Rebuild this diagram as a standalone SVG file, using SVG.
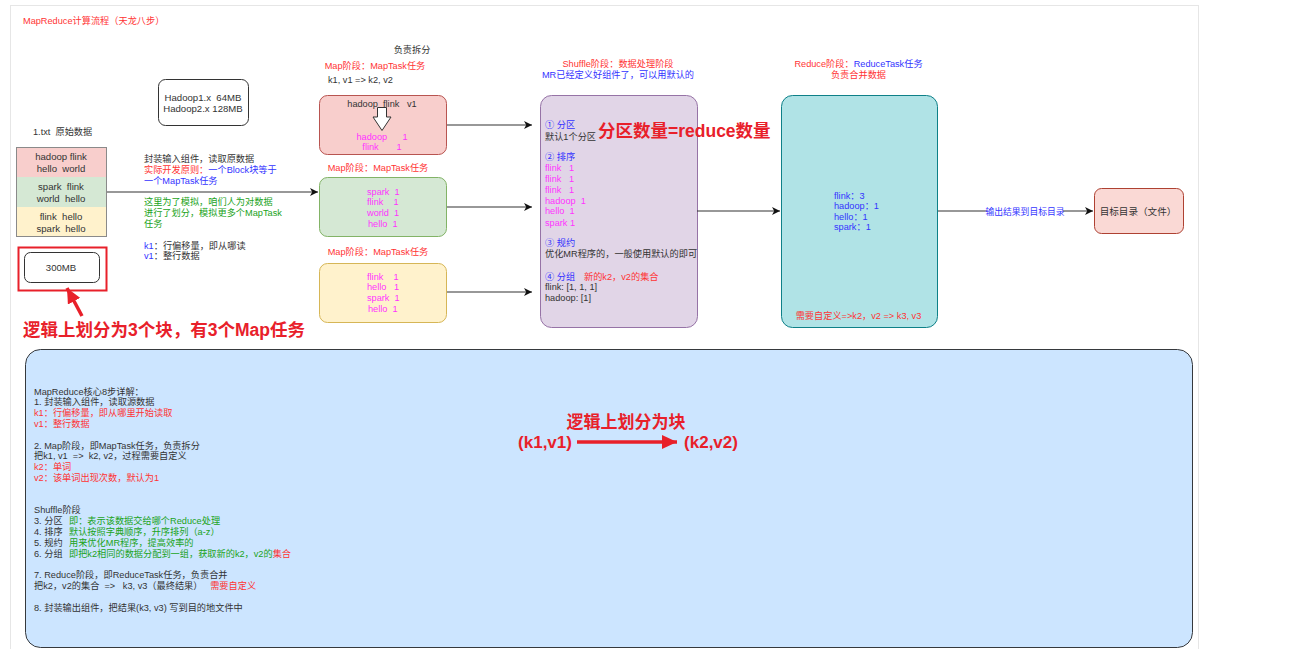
<svg xmlns="http://www.w3.org/2000/svg" width="1301" height="649" viewBox="0 0 1301 649">
<style>
text{font-family:"Liberation Sans","Noto Sans CJK SC",sans-serif;font-size:9.2px;fill:#333333;white-space:pre}
.c{text-anchor:middle}
.r{fill:#ff3333}
.b{fill:#3333ff}
.m{fill:#ff33ff}
.g{fill:#1aa31a}
.big{font-size:17px;font-weight:bold;fill:#e8202a}
.ln{stroke:#333333;stroke-width:1.2;fill:none}
</style>
<defs>
<marker id="ah" markerUnits="userSpaceOnUse" markerWidth="9" markerHeight="8" refX="8" refY="4" orient="auto">
<path d="M0,0 L8,4 L0,8 L2.2,4 Z" fill="#111111"/>
</marker>
<marker id="rah" markerUnits="userSpaceOnUse" markerWidth="16" markerHeight="14" refX="15" refY="7" orient="auto">
<path d="M0,0 L15,7 L0,14 Z" fill="#e8202a"/>
</marker>
</defs>
<rect x="0" y="0" width="1301" height="649" fill="#ffffff"/>
<rect x="10.5" y="5.5" width="1188" height="680" fill="none" stroke="#e6e6e6"/>
<text x="23" y="23.5" class="r">MapReduce计算流程（天龙八步）</text>

<g id="hadoop-size">
<rect x="158.5" y="79.5" width="90" height="46" rx="7" fill="#ffffff" stroke="#333333"/>
<text x="203" y="100.5" class="c" style="font-size:9.6px">Hadoop1.x  64MB</text>
<text x="203" y="111.5" class="c" style="font-size:9.6px">Hadoop2.x 128MB</text>
</g>

<g id="raw-data">
<text x="33" y="134.5">1.txt  原始数据</text>
<rect x="16" y="147" width="91" height="30" fill="#f8cecc"/>
<rect x="16" y="177" width="91" height="30" fill="#d5e8d4"/>
<rect x="16" y="207" width="91" height="30" fill="#fff2cc"/>
<rect x="16.5" y="147.5" width="90" height="89" fill="none" stroke="#8a8a8a"/>
<text x="61" y="159.5" class="c" style="font-size:9.6px">hadoop flink</text>
<text x="61" y="171.5" class="c" style="font-size:9.6px">hello  world</text>
<text x="61" y="189.5" class="c" style="font-size:9.6px">spark  flink</text>
<text x="61" y="201.5" class="c" style="font-size:9.6px">world  hello</text>
<text x="61" y="219.5" class="c" style="font-size:9.6px">flink  hello</text>
<text x="61" y="231.5" class="c" style="font-size:9.6px">spark  hello</text>
</g>

<g id="size-300mb">
<rect x="18.5" y="247.5" width="88" height="43" fill="none" stroke="#e8202a" stroke-width="2"/>
<rect x="24.5" y="252.5" width="75" height="30" rx="6" fill="#ffffff" stroke="#333333"/>
<text x="61" y="270.5" class="c" style="font-size:9.6px">300MB</text>
</g>

<g id="notes-left">
<text x="144" y="161.8">封装输入组件，读取原数据</text>
<text x="144" y="172.8"><tspan class="r">实际开发原则：</tspan><tspan class="b">一个Block块等于</tspan></text>
<text x="144" y="183.5" class="b">一个MapTask任务</text>
<text x="144" y="205.2" class="g">这里为了模拟，咱们人为对数据</text>
<text x="144" y="215.8" class="g">进行了划分，模拟更多个MapTask</text>
<text x="144" y="226.8" class="g">任务</text>
<text x="144" y="248.5"><tspan class="b">k1</tspan>：行偏移量，即从哪读</text>
<text x="144" y="258.8"><tspan class="b">v1</tspan>：整行数据</text>
</g>

<g id="note-3-blocks">
<text x="23" y="336" class="big" style="font-size:17.5px">逻辑上划分为3个块，有3个Map任务</text>
</g>

<g id="map-1">
<text x="412" y="52.5" class="c">负责拆分</text>
<text x="375" y="68.5" class="c r">Map阶段：MapTask任务</text>
<text x="328" y="82.5">k1, v1 =&gt; k2, v2</text>
<rect x="319.5" y="95.5" width="127" height="59" rx="8" fill="#f8cecc" stroke="#b85450"/>
<text x="382" y="106.5" class="c">hadoop  flink   v1</text>
<polygon points="377.5,107.5 386.5,107.5 386.5,117 391,117 382,130.5 373,117 377.5,117" fill="#ffffff" stroke="#333333"/>
<text x="382" y="139.5" class="c m">hadoop      1</text>
<text x="382" y="149.5" class="c m">flink       1</text>
</g>

<g id="map-2">
<text x="378" y="170.5" class="c r">Map阶段：MapTask任务</text>
<rect x="319.5" y="177.5" width="127" height="59" rx="8" fill="#d5e8d4" stroke="#82b366"/>
<text x="367" y="194.8" class="m">spark  1</text>
<text x="367" y="205.2" class="m">flink    1</text>
<text x="367" y="216.2" class="m">world  1</text>
<text x="368" y="226.5" class="m">hello  1</text>
</g>

<g id="map-3">
<text x="378" y="255.2" class="c r">Map阶段：MapTask任务</text>
<rect x="319.5" y="263.5" width="127" height="59" rx="8" fill="#fff2cc" stroke="#d6b656"/>
<text x="367" y="279.5" class="m">flink    1</text>
<text x="367" y="290.2" class="m">hello   1</text>
<text x="367" y="301.2" class="m">spark  1</text>
<text x="368" y="311.8" class="m">hello  1</text>
</g>

<g id="shuffle">
<text x="618" y="66.8" class="c r">Shuffle阶段：数据处理阶段</text>
<text x="618" y="77.8" class="c b">MR已经定义好组件了，可以用默认的</text>
<rect x="540.5" y="95.5" width="157" height="232" rx="11" fill="#e1d5e7" stroke="#9673a6"/>
<text x="545" y="127.5" class="b">① 分区</text>
<text x="545" y="139.5">默认1个分区</text>
<text x="598" y="136.5" class="big" style="font-size:17.5px">分区数量=reduce数量</text>
<text x="545" y="160.2" class="b">② 排序</text>
<text x="545" y="171.2" class="m">flink   1</text>
<text x="545" y="181.8" class="m">flink   1</text>
<text x="545" y="192.5" class="m">flink   1</text>
<text x="545" y="203.5" class="m">hadoop  1</text>
<text x="545" y="214.2" class="m">hello  1</text>
<text x="545" y="225.5" class="m">spark 1</text>
<text x="545" y="246.2" class="b">③ 规约</text>
<text x="545" y="256.8">优化MR程序的，一般使用默认的即可</text>
<text x="545" y="279.5"><tspan class="b">④ 分组</tspan></text>
<text x="584" y="279.5" class="r">新的k2，v2的集合</text>
<text x="545" y="290.2">flink: [1, 1, 1]</text>
<text x="545" y="300.8">hadoop: [1]</text>
</g>

<g id="reduce">
<text x="858.5" y="66.8" class="c"><tspan class="r">Reduce阶段：</tspan><tspan class="b">ReduceTask任务</tspan></text>
<text x="858.5" y="77.8" class="c r">负责合并数据</text>
<rect x="781.5" y="95.5" width="156" height="232" rx="11" fill="#b0e3e6" stroke="#0e8088"/>
<text x="834" y="198.5" class="b">flink：3</text>
<text x="834" y="208.8" class="b">hadoop：1</text>
<text x="834" y="219.5" class="b">hello：1</text>
<text x="834" y="230.2" class="b">spark：1</text>
<text x="858.5" y="318.5" class="c r">需要自定义=&gt;k2，v2 =&gt; k3, v3</text>
</g>

<g id="target">
<rect x="1094.5" y="188.5" width="89" height="45" rx="7" fill="#fad9d5" stroke="#ae4132"/>
<text x="1138" y="214.5" class="c" style="font-size:9.6px">目标目录（文件）</text>
</g>

<g id="connectors">
<line x1="107" y1="192" x2="318" y2="192" class="ln" marker-end="url(#ah)"/>
<line x1="447" y1="125" x2="532" y2="125" class="ln" marker-end="url(#ah)"/>
<line x1="447" y1="207" x2="532" y2="207" class="ln" marker-end="url(#ah)"/>
<line x1="447" y1="292" x2="532" y2="292" class="ln" marker-end="url(#ah)"/>
<line x1="697" y1="211" x2="780" y2="211" class="ln" marker-end="url(#ah)"/>
<line x1="938" y1="211" x2="1093" y2="211" class="ln" marker-end="url(#ah)"/>
<rect x="987" y="205" width="76" height="12" fill="#ffffff"/>
<text x="1025" y="214.5" class="c b" style="font-size:8.8px">输出结果到目标目录</text>
<line x1="82" y1="316" x2="67" y2="288" stroke="#e8202a" stroke-width="3.5" marker-end="url(#rah)"/>
</g>

<g id="summary">
<rect x="25.5" y="349.5" width="1167" height="298" rx="15" fill="#cce5ff" stroke="#36393d"/>
<text x="34" y="394.5">MapReduce核心8步详解：</text>
<text x="34" y="405.3">1. 封装输入组件，读取源数据</text>
<text x="34" y="416.1" class="r">k1：行偏移量，即从哪里开始读取</text>
<text x="34" y="426.9" class="r">v1：整行数据</text>
<text x="34" y="448.5">2. Map阶段，即MapTask任务，负责拆分</text>
<text x="34" y="459.3">把k1, v1  =&gt;  k2, v2，过程需要自定义</text>
<text x="34" y="470.1" class="r">k2：单词</text>
<text x="34" y="480.9" class="r">v2：该单词出现次数，默认为1</text>
<text x="34" y="513.3">Shuffle阶段</text>
<text x="34" y="524.1">3. 分区</text>
<text x="69" y="524.1" class="g">即：表示该数据交给哪个Reduce处理</text>
<text x="34" y="534.9">4. 排序</text>
<text x="69" y="534.9" class="g">默认按照字典顺序，升序排列（a-z）</text>
<text x="34" y="545.7">5. 规约</text>
<text x="69" y="545.7" class="g">用来优化MR程序，提高效率的</text>
<text x="34" y="556.5">6. 分组</text>
<text x="69" y="556.5"><tspan class="g">即把k2相同的数据分配到一组，获取新的k2，v2的</tspan><tspan class="r">集合</tspan></text>
<text x="34" y="578.1">7. Reduce阶段，即ReduceTask任务，负责合并</text>
<text x="34" y="588.9">把k2，v2的集合  =&gt;   k3, v3（最终结果）   <tspan class="r">需要自定义</tspan></text>
<text x="34" y="610.5">8. 封装输出组件，把结果(k3, v3) 写到目的地文件中</text>
<text x="626" y="427.5" class="big c">逻辑上划分为块</text>
<text x="545" y="448" class="big c">(k1,v1)</text>
<line x1="577" y1="442" x2="677" y2="442" stroke="#e8202a" stroke-width="3.5" marker-end="url(#rah)"/>
<text x="711" y="448" class="big c">(k2,v2)</text>
</g>
</svg>
